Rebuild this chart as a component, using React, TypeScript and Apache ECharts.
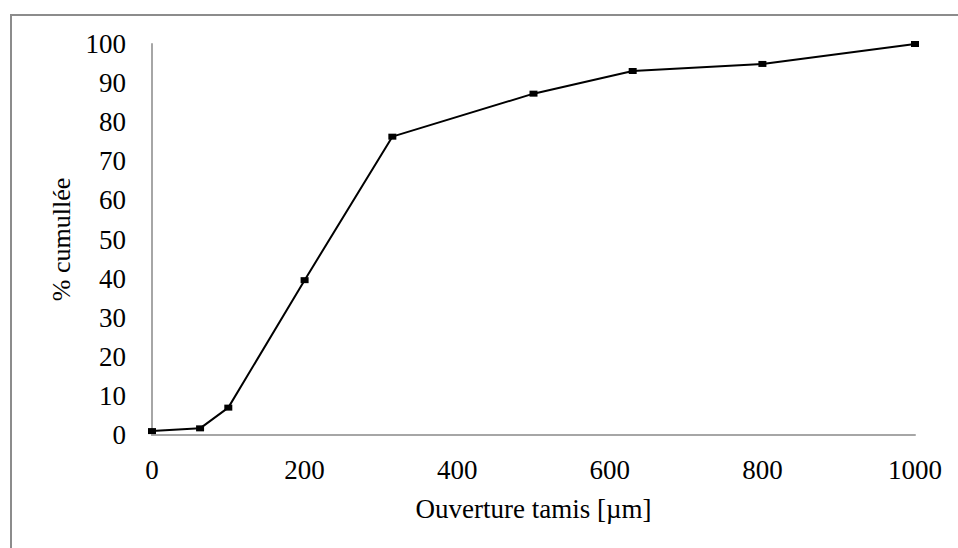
import React, { useEffect, useRef } from "react";
import * as echarts from "echarts";

const sieveSizes = [0, 63, 100, 200, 315, 500, 630, 800, 1000];
const cumulative = [1, 1.7, 7, 39.6, 76.3, 87.3, 93.1, 94.9, 100];
const xTitle = "Ouverture tamis [µm]";
const yTitle = "% cumullée";

export default function App() {
  const ref = useRef<HTMLDivElement>(null);
  useEffect(() => {
    if (!ref.current) return;
    const chart = echarts.init(ref.current, null, { renderer: "svg" });
    const font = "'Liberation Serif', 'Times New Roman', serif";
    chart.setOption({
      animation: false,
      backgroundColor: "#ffffff",
      grid: { left: 152, right: 43, top: 44, bottom: 113, containLabel: false },
      graphic: [
        {
          type: "rect",
          shape: { x: 11, y: 15, width: 1000, height: 600 },
          style: { fill: "none", stroke: "#8c8c8c", lineWidth: 2 },
          z: -1,
        },
      ],
      xAxis: {
        type: "value",
        min: 0,
        max: 1000,
        interval: 200,
        name: xTitle,
        nameLocation: "middle",
        nameGap: 60,
        nameTextStyle: { fontFamily: font, fontSize: 27, color: "#000" },
        axisLine: { show: true, lineStyle: { color: "#a6a6a6", width: 2 } },
        axisTick: { show: false },
        splitLine: { show: false },
        axisLabel: {
          fontFamily: font,
          fontSize: 27,
          color: "#000",
          margin: 21,
          formatter: (v: number) => String(v),
        },
      },
      yAxis: {
        type: "value",
        min: 0,
        max: 100,
        interval: 10,
        name: yTitle,
        nameLocation: "middle",
        nameGap: 50,
        nameRotate: 90,
        nameTextStyle: { fontFamily: font, fontSize: 26, color: "#000" },
        axisLine: { show: true, lineStyle: { color: "#a6a6a6", width: 2 } },
        axisTick: { show: false },
        splitLine: { show: false },
        axisLabel: {
          fontFamily: font,
          fontSize: 27,
          color: "#000",
          margin: 26,
          formatter: (v: number) => String(v),
        },
      },
      series: [
        {
          type: "line",
          data: sieveSizes.map((x, i) => [x, cumulative[i]]),
          lineStyle: { color: "#000", width: 2 },
          itemStyle: { color: "#000" },
          symbol: "rect",
          symbolSize: [8, 6],
          showSymbol: true,
        },
      ],
    });
    return () => chart.dispose();
  }, []);
  return (
    <div
      ref={ref}
      style={{ position: "fixed", left: 0, top: 0, width: 958, height: 548, background: "#fff" }}
    />
  );
}
